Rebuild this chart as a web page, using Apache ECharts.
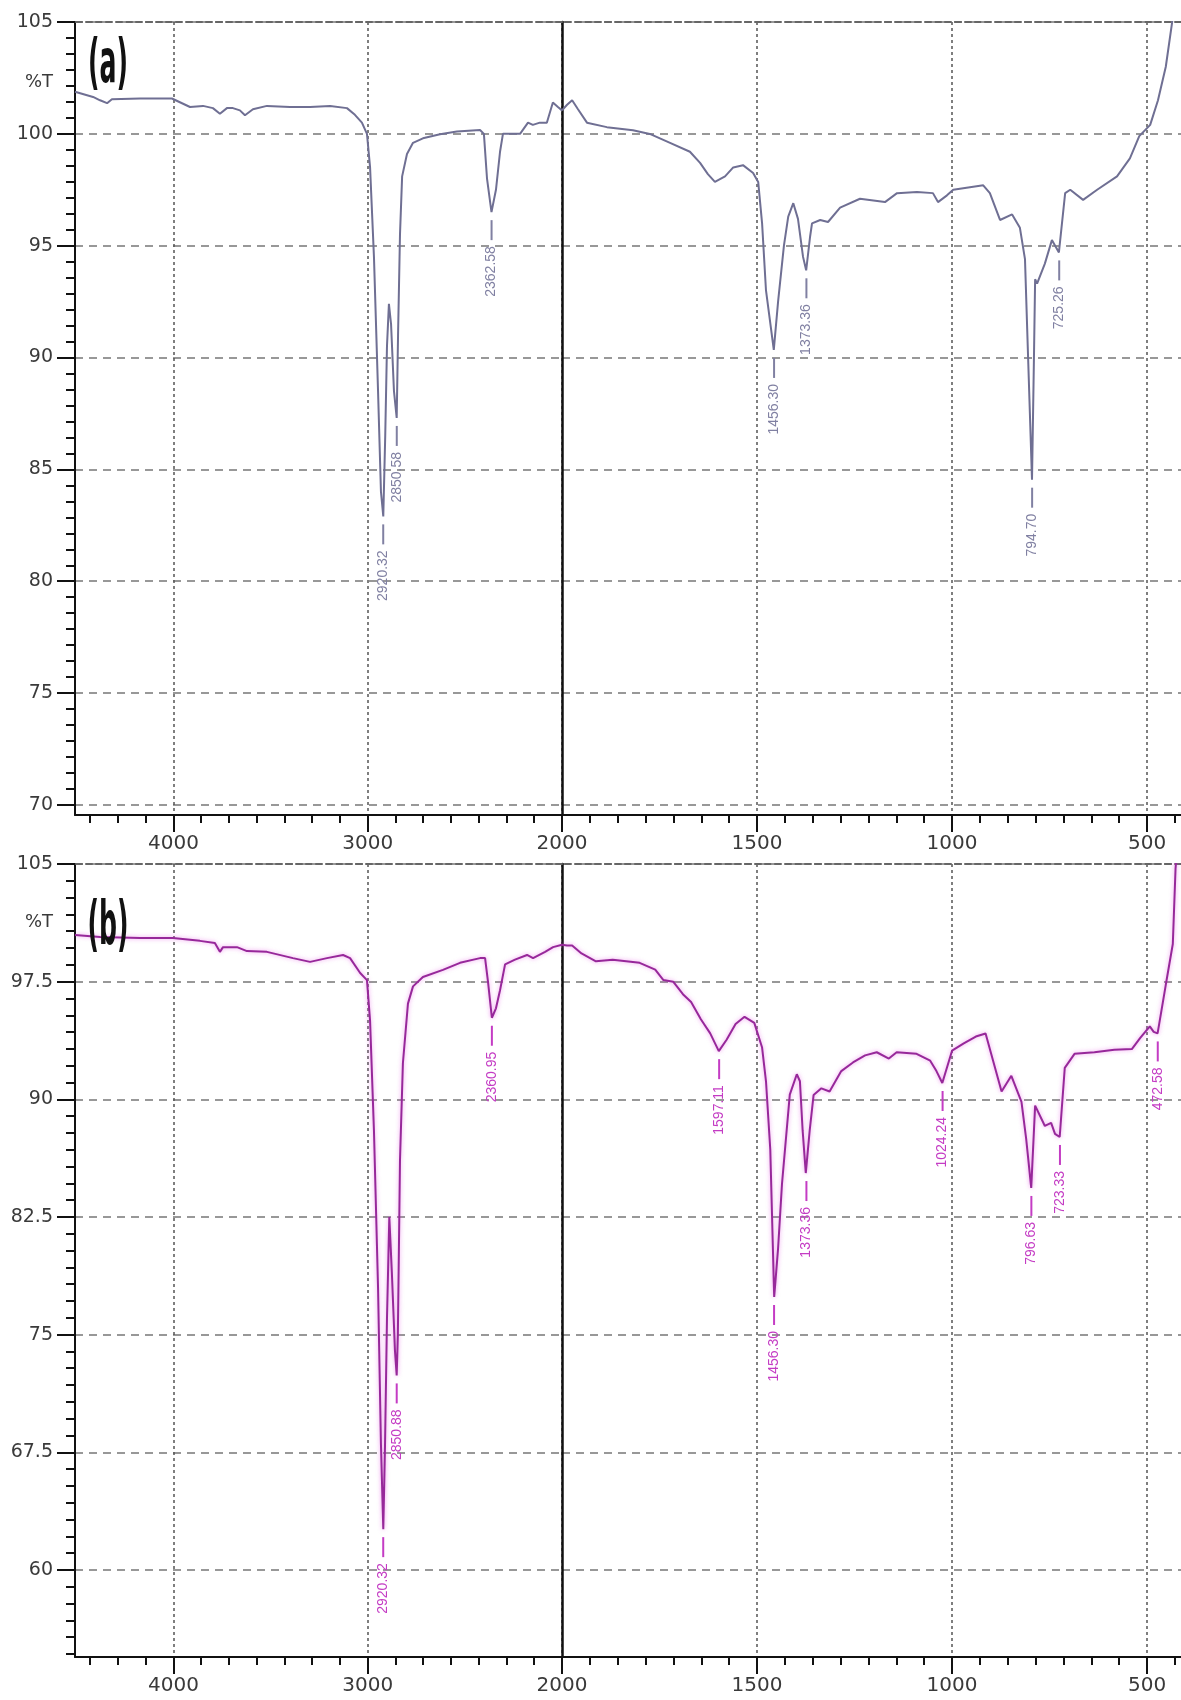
<!DOCTYPE html>
<html><head><meta charset="utf-8">
<script src="https://cdn.jsdelivr.net/npm/echarts@6/dist/echarts.min.js"></script>
<style>html,body{margin:0;padding:0;background:#fff}#c{width:1181px;height:1700px}</style>
</head><body><div id="c"></div>
<script>
// ---------- data (wavenumber cm-1, %T) ----------
const waveA = [4507,4414,4378,4342,4317,4172,4008,3915,3848,3797,3761,3725,3694,3658,3632,3591,3519,3400,3297,3194,3107,3066,3030,3004,2988,2968,2947,2932,2920,2910,2901,2891,2880,2865,2851,2844,2834,2823,2798,2767,2716,2628,2541,2422,2402,2386,2363,2340,2319,2304,2216,2175,2150,2114,2078,2047,2021,2000,1987,1974,1959,1936,1885,1818,1772,1723,1672,1646,1626,1608,1582,1561,1536,1510,1497,1487,1477,1457,1446,1431,1420,1407,1395,1382,1374,1364,1359,1338,1318,1287,1236,1172,1141,1090,1049,1036,1013,997,920,903,877,846,826,813,805,795,790,787,782,762,744,726,710,697,664,628,577,544,520,492,472,452,434,421];
const transA = [101.88,101.65,101.5,101.37,101.55,101.58,101.58,101.2,101.25,101.15,100.9,101.15,101.15,101.05,100.83,101.1,101.25,101.2,101.2,101.25,101.15,100.85,100.5,100.0,98.5,94.5,88.5,84.0,82.9,86.5,90.5,92.4,91.5,88.5,87.3,91.0,95.5,98.1,99.1,99.6,99.8,99.98,100.1,100.17,100.0,98.0,96.5,97.5,99.2,100.0,100.0,100.5,100.4,100.5,100.5,101.4,101.2,101.05,101.3,101.5,101.1,100.5,100.3,100.16,99.98,99.6,99.2,98.7,98.2,97.85,98.1,98.5,98.6,98.25,97.85,96.0,93.0,90.34,92.5,95.0,96.3,96.9,96.2,94.5,93.9,95.4,96.0,96.15,96.06,96.7,97.1,96.95,97.35,97.4,97.35,96.95,97.25,97.5,97.7,97.35,96.15,96.4,95.8,94.4,90.0,84.54,90.0,93.5,93.3,94.2,95.25,94.7,97.35,97.5,97.05,97.5,98.1,98.9,99.9,100.4,101.5,103,105.2,107];

const waveB = [4507,4378,4172,4003,3864,3787,3761,3745,3673,3622,3519,3385,3297,3210,3127,3091,3039,3004,2988,2968,2947,2932,2920,2911,2901,2889,2876,2860,2851,2845,2834,2819,2793,2767,2716,2613,2525,2422,2396,2381,2361,2340,2319,2293,2242,2180,2149,2087,2046,2000,1987,1974,1950,1913,1870,1801,1761,1740,1715,1690,1669,1644,1620,1598,1578,1555,1532,1507,1487,1477,1466,1456,1446,1436,1416,1398,1390,1383,1375,1365,1355,1335,1314,1284,1254,1223,1193,1162,1142,1091,1056,1040,1025,1000,970,939,914,893,873,848,822,810,797,787,762,746,736,724,711,686,635,584,539,518,493,483,473,452,434,427,420];
const transB = [100.47,100.35,100.28,100.28,100.1,99.96,99.4,99.7,99.7,99.45,99.4,99.0,98.76,99.0,99.2,99.0,98.05,97.6,95.0,88,78,68,62.6,68,76,82.5,79,74,72.4,75,86.1,92.3,96.1,97.2,97.8,98.25,98.7,99.0,99.0,97.5,95.2,95.8,96.95,98.6,98.9,99.2,99.0,99.4,99.7,99.85,99.8,99.8,99.3,98.8,98.9,98.7,98.27,97.6,97.5,96.7,96.2,95.1,94.2,93.07,93.8,94.8,95.26,94.87,93.3,91.15,86.8,77.4,80.5,84.6,90.3,91.6,91.15,88.0,85.3,88.0,90.27,90.7,90.5,91.8,92.35,92.8,93.0,92.6,93.0,92.9,92.46,91.8,91.04,93.1,93.56,94.0,94.2,92.3,90.5,91.5,89.83,87.5,84.35,89.6,88.3,88.5,87.8,87.6,92.0,92.9,93.0,93.16,93.2,93.9,94.65,94.3,94.2,97.3,99.9,104.7,107];

const peakWaveA = [2920.32,2850.58,2362.58,1456.30,1373.36,794.70,725.26];
const peakTransA = [82.9,87.3,96.5,90.34,93.9,84.54,94.7];
const peakWaveB = [2920.32,2850.88,2360.95,1597.11,1456.30,1373.36,1024.24,796.63,723.33,472.58];
const peakTransB = [62.6,72.4,95.2,93.07,77.4,85.3,91.04,84.35,87.6,94.2];

const xTicksLeft = [4000,3000];
const xTicksRight = [2000,1500,1000,500];
const yTicksA = [70,75,80,85,90,95,100,105];
const yTicksB = [60,67.5,75,82.5,90,97.5,105];

// ---------- helpers ----------
function minorTicks(ref, step, n, lo, hi) {
  const d = step / n, out = [];
  const k0 = Math.ceil((lo - ref) / d - 1e-9), k1 = Math.floor((hi - ref) / d + 1e-9);
  for (let k = k0; k <= k1; k++) { if (k % n !== 0) out.push(+(ref + k * d).toFixed(4)); }
  return out;
}
function pairs(w, t, keep) { const r = []; for (let i = 0; i < w.length; i++) if (keep(w[i])) r.push([w[i], t[i]]); return r; }

const X_LEFT = [2000, 4507], X_RIGHT = [413, 2000];
const Y_A = [69.55, 105], Y_B = [54.45, 105];
const AX = '#111', LBL = '#3a3a3a', FONT = 'DejaVu Sans';
const colA = '#6f6f93', colB = '#97289a', peakColA = '#8080a2', peakColB = '#c43cc4';

const grids = [
  {left: 75, top: 22, width: 487, height: 793},
  {left: 562, top: 22, width: 619, height: 793},
  {left: 75, top: 864, width: 487, height: 793},
  {left: 562, top: 864, width: 619, height: 793}
];

const xAxes = [], yAxes = [], series = [];
function addX(cfg) { xAxes.push(cfg); return xAxes.length - 1; }
function addY(cfg) { yAxes.push(cfg); return yAxes.length - 1; }

function buildX(gi, ext, ticks, minors) {
  const main = addX({type: 'value', gridIndex: gi, min: ext[0], max: ext[1], inverse: true, position: 'bottom',
    axisLine: {show: true, onZero: false, lineStyle: {color: AX, width: 2}},
    axisTick: {show: true, length: 17, customValues: ticks, lineStyle: {color: AX, width: 2}},
    axisLabel: {show: true, customValues: ticks, margin: 19, fontSize: 20, fontFamily: FONT, color: LBL, formatter: v => String(v)},
    splitLine: {show: true, lineStyle: {color: '#555', width: 1.5, type: [3, 3]}},
    minorTick: {show: false}});
  addX({type: 'value', gridIndex: gi, min: ext[0], max: ext[1], inverse: true, position: 'bottom',
    axisLine: {show: false}, axisTick: {show: true, length: 8, customValues: minors, lineStyle: {color: AX, width: 2}},
    axisLabel: {show: false}, splitLine: {show: false}});
  addX({type: 'value', gridIndex: gi, min: ext[0], max: ext[1], inverse: true, position: 'top',
    axisLine: {show: true, onZero: false, lineStyle: {color: '#666', width: 2, type: [6, 4]}},
    axisTick: {show: false}, axisLabel: {show: false}, splitLine: {show: false}});
  return main;
}
function buildY(gi, ext, ticks, minors, withLabels) {
  if (withLabels) {
    const main = addY({type: 'value', gridIndex: gi, min: ext[0], max: ext[1], position: 'left',
      axisLine: {show: true, onZero: false, lineStyle: {color: AX, width: 2}},
      axisTick: {show: true, length: 18, customValues: ticks, lineStyle: {color: AX, width: 2}},
      axisLabel: {show: true, customValues: ticks, margin: 22, fontSize: 19, fontFamily: FONT, color: LBL, formatter: v => String(v)},
      splitLine: {show: true, lineStyle: {color: '#777', width: 1.5, type: [8, 6]}}});
    addY({type: 'value', gridIndex: gi, min: ext[0], max: ext[1], position: 'left',
      axisLine: {show: false}, axisTick: {show: true, length: 9, customValues: minors, lineStyle: {color: AX, width: 2}},
      axisLabel: {show: false}, splitLine: {show: false}});
    return main;
  }
  return addY({type: 'value', gridIndex: gi, min: ext[0], max: ext[1], position: 'left',
    axisLine: {show: true, onZero: false, lineStyle: {color: AX, width: 2.5}},
    axisTick: {show: false, customValues: ticks}, axisLabel: {show: false},
    splitLine: {show: true, lineStyle: {color: '#777', width: 1.5, type: [8, 6]}}});
}

const minXL = minorTicks(2000, 1000, 7, X_LEFT[0], X_LEFT[1]);
const minXR = minorTicks(500, 500, 7, X_RIGHT[0], X_RIGHT[1]);
const minYA = minorTicks(70, 5, 7, Y_A[0], Y_A[1]);
const minYB = minorTicks(60, 7.5, 7, Y_B[0], Y_B[1]);

function peakRenderer(color) {
  return function (params, api) {
    const w = api.value(0), t = api.value(1);
    const p = api.coord([w, t]);
    return {type: 'group', children: [
      {type: 'line', shape: {x1: p[0], y1: p[1] + 8, x2: p[0], y2: p[1] + 28}, style: {stroke: color, lineWidth: 2}},
      {type: 'text', x: p[0], y: p[1] + 34, rotation: Math.PI / 2,
        style: {text: w.toFixed(2), fill: color, fontSize: 14, fontFamily: 'Liberation Sans', align: 'right', verticalAlign: 'middle'}}
    ]};
  };
}

function buildPanel(gL, gR, yExt, yTicks, yMinors, wave, trans, pw, pt, lineCol, peakCol, glow) {
  const xl = buildX(gL, X_LEFT, xTicksLeft, minXL);
  const xr = buildX(gR, X_RIGHT, xTicksRight, minXR);
  const yl = buildY(gL, yExt, yTicks, yMinors, true);
  const yr = buildY(gR, yExt, yTicks, yMinors, false);
  const ls = {color: lineCol, width: 2};
  if (glow) { ls.shadowColor = 'rgba(225,70,225,0.55)'; ls.shadowBlur = 4; }
  series.push({type: 'line', xAxisIndex: xl, yAxisIndex: yl, showSymbol: false, symbol: 'none', lineStyle: ls, data: pairs(wave, trans, w => w >= 2000), z: 3});
  series.push({type: 'line', xAxisIndex: xr, yAxisIndex: yr, showSymbol: false, symbol: 'none', lineStyle: ls, data: pairs(wave, trans, w => w <= 2000), z: 3});
  series.push({type: 'custom', xAxisIndex: xl, yAxisIndex: yl, renderItem: peakRenderer(peakCol), clip: false, z: 4, data: pairs(pw, pt, w => w >= 2000)});
  series.push({type: 'custom', xAxisIndex: xr, yAxisIndex: yr, renderItem: peakRenderer(peakCol), clip: false, z: 4, data: pairs(pw, pt, w => w < 2000)});
}

buildPanel(0, 1, Y_A, yTicksA, minYA, waveA, transA, peakWaveA, peakTransA, colA, peakColA, false);
buildPanel(2, 3, Y_B, yTicksB, minYB, waveB, transB, peakWaveB, peakTransB, colB, peakColB, true);

const chart = echarts.init(document.getElementById('c'), null, {renderer: 'canvas'});
chart.setOption({
  animation: false,
  backgroundColor: '#fff',
  grid: grids,
  xAxis: xAxes,
  yAxis: yAxes,
  series: series,
  graphic: [
    {type: 'text', x: 108, y: 66, scaleX: 0.42, z: 10, style: {text: '(a)', fontSize: 60, fontWeight: 'bold', fontFamily: FONT, fill: '#111', align: 'center', verticalAlign: 'middle'}},
    {type: 'text', x: 108, y: 928, scaleX: 0.42, z: 10, style: {text: '(b)', fontSize: 60, fontWeight: 'bold', fontFamily: FONT, fill: '#111', align: 'center', verticalAlign: 'middle'}},
    {type: 'text', x: 53, y: 82, z: 10, style: {text: '%T', fontSize: 18, fontFamily: FONT, fill: LBL, align: 'right', verticalAlign: 'middle'}},
    {type: 'text', x: 53, y: 922, z: 10, style: {text: '%T', fontSize: 18, fontFamily: FONT, fill: LBL, align: 'right', verticalAlign: 'middle'}}
  ]
});
</script>
</body></html>
